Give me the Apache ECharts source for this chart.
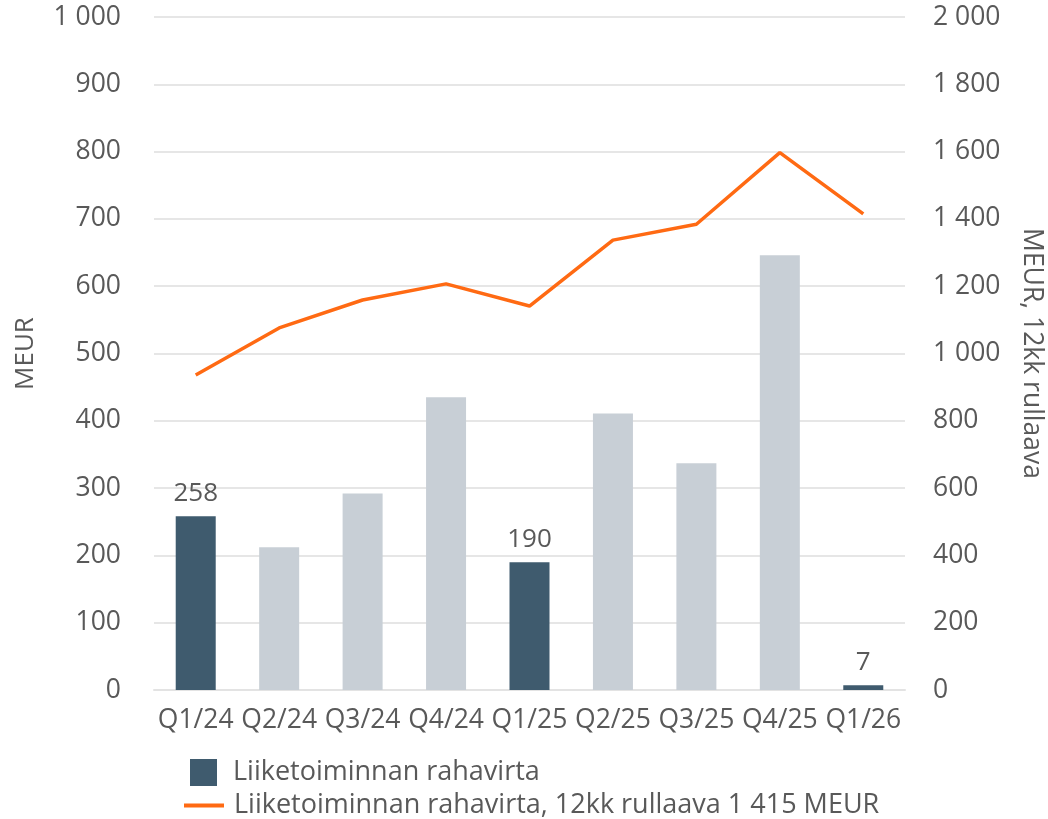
<!DOCTYPE html>
<html>
<head>
<meta charset="utf-8">
<style>
  html, body { margin: 0; padding: 0; background: #fff; }
  #chart { width: 1048px; height: 819px; }
</style>
<script src="https://cdn.jsdelivr.net/npm/echarts@6/dist/echarts.min.js"></script>
</head>
<body>
<div id="chart"></div>
<script>
const quarters = ["Q1/24", "Q2/24", "Q3/24", "Q4/24", "Q1/25", "Q2/25", "Q3/25", "Q4/25", "Q1/26"];
const cashFlow = [258, 212, 292, 435, 190, 411, 337, 646, 7];
const rolling12m = [936, 1076, 1159, 1207, 1141, 1337, 1384, 1597, 1415];
const highlighted = [true, false, false, false, true, false, false, false, true];

const barName = "Liiketoiminnan rahavirta";
const lineName = "Liiketoiminnan rahavirta, 12kk rullaava 1 415 MEUR";

const dark = "#3f5b6e";
const light = "#c8cfd6";
const orange = "#ff6a13";
const textColor = "#595959";
const font = "Open Sans";

const spaced = (v) => String(v).replace(/\B(?=(\d{3})+(?!\d))/g, " ");

const chart = echarts.init(document.getElementById("chart"));
chart.setOption({
  animation: false,
  textStyle: { fontFamily: font },
  grid: { left: 154, right: 143, top: 17, bottom: 129, outerBoundsMode: "none" },
  legend: [
    {
      left: 190,
      top: 759,
      padding: 0,
      itemWidth: 27,
      itemHeight: 27,
      textStyle: { color: textColor, fontSize: 27, fontFamily: font, padding: [0, 0, 0, 11] },
      data: [{ name: barName, icon: "rect" }]
    },
    {
      left: 184,
      top: 792,
      padding: 0,
      itemWidth: 40,
      itemHeight: 27,
      textStyle: { color: textColor, fontSize: 27, fontFamily: font, padding: [0, 0, 0, 5] },
      data: [{ name: lineName, icon: "path://M0 0H40V4H0Z" }]
    }
  ],
  xAxis: {
    type: "category",
    data: quarters,
    axisTick: { show: false },
    axisLine: { lineStyle: { color: "#e3e3e3", width: 2 } },
    axisLabel: { color: textColor, fontSize: 26.5, margin: 17, interval: 0 }
  },
  yAxis: [
    {
      type: "value",
      min: 0,
      max: 1000,
      interval: 100,
      name: "MEUR",
      nameLocation: "middle",
      nameGap: 115,
      nameTextStyle: { color: textColor, fontSize: 26 },
      axisLabel: { color: textColor, fontSize: 26.5, margin: 33, formatter: spaced },
      splitLine: { lineStyle: { color: "#e6e6e6", width: 2 } }
    },
    {
      type: "value",
      min: 0,
      max: 2000,
      interval: 200,
      position: "right",
      name: "MEUR, 12kk rullaava",
      nameLocation: "middle",
      nameRotate: -90,
      nameGap: 113,
      nameTextStyle: { color: textColor, fontSize: 26.5 },
      axisLabel: { color: textColor, fontSize: 26.5, margin: 28, formatter: spaced },
      splitLine: { show: false }
    }
  ],
  series: [
    {
      name: barName,
      type: "bar",
      barWidth: 40,
      itemStyle: { color: dark },
      data: cashFlow.map((v, i) => ({
        value: v,
        itemStyle: { color: highlighted[i] ? dark : light },
        label: { show: highlighted[i] }
      })),
      label: {
        position: "top",
        distance: 10,
        color: textColor,
        fontSize: 26
      }
    },
    {
      name: lineName,
      type: "line",
      yAxisIndex: 1,
      data: rolling12m,
      symbol: "none",
      itemStyle: { color: orange },
      lineStyle: { color: orange, width: 3.5 }
    }
  ]
});
</script>
</body>
</html>
